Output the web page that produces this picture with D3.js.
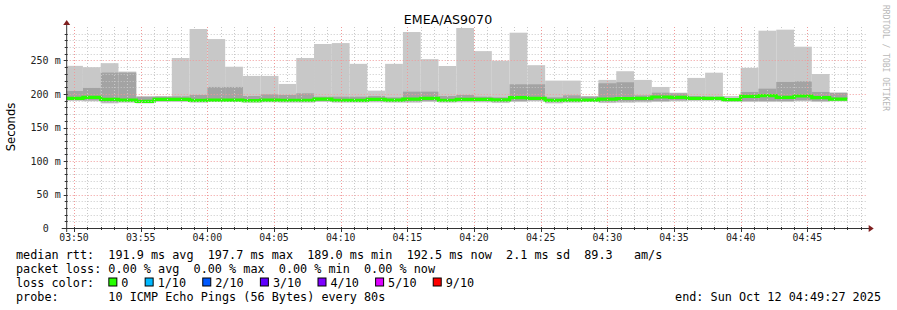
<!DOCTYPE html>
<html>
<head>
<meta charset="utf-8">
<script src="https://cdn.jsdelivr.net/npm/d3@7"></script>
<style>
body { margin: 0; background: #fff; }
svg { display: block; }
text { white-space: pre; }
</style>
</head>
<body>
<svg id="chart"></svg>
<script>
const WIDTH = 897;
const HEIGHT = 310;
const PLOT = {left: 66.7, right: 866.7, top: 27, bottom: 228};
const MONO = 'DejaVu Sans Mono';
const SANS = 'DejaVu Sans';
const SMOKE_LIGHT = '#c8c8c8';
const SMOKE_MID = '#a3a3a3';
const MEDIAN_COLOR = '#26ff00';
const STEP_SEC = 80;

const title = 'EMEA/AS9070';
const day = '2025-10-12';
const viewStart = '03:49:27';
const viewEnd = '04:49:27';

// start of each 80s step
const stepStart = [
    '03:49:20', '03:50:40', '03:52:00', '03:53:20', '03:54:40', '03:56:00', '03:57:20', '03:58:40',
    '04:00:00', '04:01:20', '04:02:40', '04:04:00', '04:05:20', '04:06:40', '04:08:00', '04:09:20',
    '04:10:40', '04:12:00', '04:13:20', '04:14:40', '04:16:00', '04:17:20', '04:18:40', '04:20:00',
    '04:21:20', '04:22:40', '04:24:00', '04:25:20', '04:26:40', '04:28:00', '04:29:20', '04:30:40',
    '04:32:00', '04:33:20', '04:34:40', '04:36:00', '04:37:20', '04:38:40', '04:40:00', '04:41:20',
    '04:42:40', '04:44:00', '04:45:20', '04:46:40'
];

// rtt in ms
const maxRtt = [242, 240, 246, 233.5, 197, 197, 253.7, 297, 282, 240.7, 227, 227, 215, 253.7, 274.6, 276,
    245, 205, 245, 292.5, 252, 241.8, 298.5, 264, 249.7, 291.5, 243, 220, 220, 197, 221, 234,
    221, 210.5, 202, 224, 231.8, 197, 239, 294.5, 296, 270.6, 229.8, 202.5];
const upperRtt = [204.5, 209, 232, 232, 195.5, 196, 196.5, 198.5, 210.5, 210.5, 197, 199.5, 198.5, 201, 196, 196,
    196, 197, 195, 203.5, 203.5, 197, 198.5, 196, 195, 214.5, 214.5, 195, 198, 196, 216, 217.5,
    198, 202, 201, 197, 196, 193.5, 203, 208, 218, 219, 203, 201.5];
const medianRtt = [193.5, 195, 192, 190.8, 189, 192, 192, 190.5, 191, 191, 190, 191, 190.7, 190.7, 192.5, 190.7,
    190.5, 192, 190.8, 192.5, 193.5, 190.7, 192, 192, 191.3, 194.5, 193.5, 190.5, 191, 191, 192.3, 193.3,
    193.5, 195.5, 195, 193.5, 193.5, 191.5, 196.5, 197.7, 195, 197, 194.5, 192.5];
const minRtt = [189.5, 189, 186, 187, 186, 188, 188, 187, 188, 188, 187, 187.5, 187, 187, 188, 187,
    187, 187.5, 187, 187, 188, 187, 187.5, 187.5, 186.5, 188, 189, 186, 187, 188, 186.5, 187,
    187.5, 188, 189, 189.5, 189.5, 188, 188, 188, 188, 189, 188, 189];

const yTicks = [0, 50, 100, 150, 200, 250];
const yTickLabels = ['0  ', '50 m', '100 m', '150 m', '200 m', '250 m'];
const xTickTimes = ['03:50', '03:55', '04:00', '04:05', '04:10', '04:15', '04:20', '04:25', '04:30', '04:35', '04:40', '04:45'];

const legendLines = [
    'median rtt:  191.9 ms avg  197.7 ms max  189.0 ms min  192.5 ms now  2.1 ms sd  89.3   am/s',
    'packet loss: 0.00 % avg  0.00 % max  0.00 % min  0.00 % now',
    'loss color:',
    'probe:       10 ICMP Echo Pings (56 Bytes) every 80s'
];
const lossLabels = ['0', '1/10', '2/10', '3/10', '4/10', '5/10', '9/10'];
const lossColors = ['#26ff00', '#00b8ff', '#0059ff', '#5e00ff', '#7e00ff', '#dd00ff', '#ff0000'];
const endLabel = 'end: Sun Oct 12 04:49:27 2025';
const watermark = 'RRDTOOL / TOBI OETIKER';

const parse = d3.utcParse('%Y-%m-%d %H:%M:%S');
const at = (hms) => parse(day + ' ' + (hms.length === 5 ? hms + ':00' : hms));

const steps = stepStart.map((s, i) => {
    const t0 = at(s);
    return {
        t0,
        t1: new Date(t0.getTime() + STEP_SEC * 1000),
        max: maxRtt[i],
        upper: upperRtt[i],
        med: medianRtt[i],
        min: minRtt[i]
    };
});

const svg = d3.select('#chart')
    .attr('width', WIDTH)
    .attr('height', HEIGHT)
    .style('background', '#fff');

const x = d3.scaleUtc()
    .domain([at(viewStart), at(viewEnd)])
    .range([PLOT.left, PLOT.right]);

const y = d3.scaleLinear()
    .domain([0, 300])
    .range([PLOT.bottom, PLOT.top]);

svg.append('clipPath').attr('id', 'plotclip')
    .append('rect')
    .attr('x', PLOT.left).attr('y', PLOT.top - 5)
    .attr('width', PLOT.right - PLOT.left).attr('height', PLOT.bottom - PLOT.top + 5);

const plot = svg.append('g').attr('clip-path', 'url(#plotclip)');

/* smoke */
plot.selectAll('rect.smoke')
    .data(steps)
    .join('rect')
    .attr('class', 'smoke')
    .attr('x', d => x(d.t0))
    .attr('width', d => x(d.t1) - x(d.t0))
    .attr('y', d => y(d.max))
    .attr('height', d => y(d.min) - y(d.max))
    .attr('fill', SMOKE_LIGHT);

plot.selectAll('rect.mid')
    .data(steps)
    .join('rect')
    .attr('class', 'mid')
    .attr('x', d => x(d.t0))
    .attr('width', d => x(d.t1) - x(d.t0))
    .attr('y', d => y(d.upper))
    .attr('height', d => y(d.min) - y(d.upper) - 1)
    .attr('fill', SMOKE_MID);

/* grid */
const grid = svg.append('g');
const minuteTicks = x.ticks(d3.utcMinute.every(1));
const minorY = d3.range(10, 300, 10);

grid.selectAll('line.vminor')
    .data(minuteTicks.filter(t => t.getUTCMinutes() % 5 !== 0))
    .join('line')
    .attr('x1', d => Math.round(x(d)) + 0.5).attr('x2', d => Math.round(x(d)) + 0.5)
    .attr('y1', PLOT.top).attr('y2', PLOT.bottom)
    .attr('stroke', '#c8c8c8').attr('stroke-dasharray', '1,2');

grid.selectAll('line.hminor')
    .data(minorY.filter(v => v % 50 !== 0))
    .join('line')
    .attr('x1', PLOT.left).attr('x2', PLOT.right)
    .attr('y1', d => Math.round(y(d)) + 0.5).attr('y2', d => Math.round(y(d)) + 0.5)
    .attr('stroke', '#c8c8c8').attr('stroke-dasharray', '1,2');

grid.selectAll('line.vmajor')
    .data(xTickTimes.map(at))
    .join('line')
    .attr('x1', d => Math.round(x(d)) + 0.5).attr('x2', d => Math.round(x(d)) + 0.5)
    .attr('y1', PLOT.top).attr('y2', PLOT.bottom)
    .attr('stroke', '#f09a9a').attr('stroke-dasharray', '1,2');

grid.selectAll('line.hmajor')
    .data(yTicks.filter(v => v > 0))
    .join('line')
    .attr('x1', PLOT.left).attr('x2', PLOT.right)
    .attr('y1', d => Math.round(y(d)) + 0.5).attr('y2', d => Math.round(y(d)) + 0.5)
    .attr('stroke', '#f09a9a').attr('stroke-dasharray', '1,2');

/* median */
const medPts = steps.flatMap(d => [[d.t0, d.med], [d.t1, d.med]]);
plot.append('path')
    .datum(medPts)
    .attr('fill', 'none')
    .attr('stroke', MEDIAN_COLOR)
    .attr('stroke-width', 3.2)
    .attr('d', d3.line().x(d => x(d[0])).y(d => y(d[1])));

/* axes */
const axisColor = '#333';
const arrowColor = '#7f1f1f';
svg.append('line')
    .attr('x1', PLOT.left - 5).attr('x2', PLOT.right + 3)
    .attr('y1', PLOT.bottom + 0.5).attr('y2', PLOT.bottom + 0.5)
    .attr('stroke', axisColor);
svg.append('line')
    .attr('x1', PLOT.left).attr('x2', PLOT.left)
    .attr('y1', PLOT.bottom + 4).attr('y2', PLOT.top - 3)
    .attr('stroke', axisColor);
svg.append('path')
    .attr('d', `M${PLOT.right + 2},${PLOT.bottom - 3}L${PLOT.right + 7},${PLOT.bottom + 0.5}L${PLOT.right + 2},${PLOT.bottom + 4}Z`)
    .attr('fill', arrowColor);
svg.append('path')
    .attr('d', `M${PLOT.left - 3.5},${PLOT.top - 2}L${PLOT.left},${PLOT.top - 7}L${PLOT.left + 3.5},${PLOT.top - 2}Z`)
    .attr('fill', arrowColor);

svg.append('g').selectAll('line')
    .data(minuteTicks)
    .join('line')
    .attr('x1', d => Math.round(x(d)) + 0.5).attr('x2', d => Math.round(x(d)) + 0.5)
    .attr('y1', PLOT.bottom - 1)
    .attr('y2', d => PLOT.bottom + (d.getUTCMinutes() % 5 === 0 ? 4 : 2))
    .attr('stroke', axisColor);

svg.append('g').selectAll('line')
    .data(minorY)
    .join('line')
    .attr('x1', d => PLOT.left - (d % 50 === 0 ? 3 : 2)).attr('x2', PLOT.left + 1)
    .attr('y1', d => Math.round(y(d)) + 0.5).attr('y2', d => Math.round(y(d)) + 0.5)
    .attr('stroke', axisColor);

svg.append('g').selectAll('text')
    .data(xTickTimes)
    .join('text')
    .attr('x', d => x(at(d)))
    .attr('y', PLOT.bottom + 13)
    .attr('text-anchor', 'middle')
    .attr('font-family', MONO).attr('font-size', 9.8)
    .attr('fill', '#222')
    .text(d => d);

svg.append('g').selectAll('text')
    .data(yTicks)
    .join('text')
    .attr('x', PLOT.left - 6)
    .attr('y', d => y(d) + 3.6)
    .attr('text-anchor', 'end')
    .attr('font-family', MONO).attr('font-size', 10)
    .attr('fill', '#222')
    .text((d, i) => yTickLabels[i]);

/* titles */
svg.append('text')
    .attr('x', 448).attr('y', 23.5)
    .attr('text-anchor', 'middle')
    .attr('font-family', SANS).attr('font-size', 12.6)
    .attr('fill', '#000')
    .text(title);

svg.append('text')
    .attr('transform', 'translate(15,127) rotate(-90)')
    .attr('text-anchor', 'middle')
    .attr('font-family', SANS).attr('font-size', 11.6)
    .attr('fill', '#000')
    .text('Seconds');

svg.append('text')
    .attr('transform', 'translate(883,5) rotate(90)')
    .attr('font-family', MONO).attr('font-size', 8)
    .attr('fill', '#b8b8b8')
    .text(watermark);

/* legend */
const LEG_X = 16;
const LEG_Y0 = 258.5;
const LEG_DY = 14;
const LEG_FS = 11.8;
const charW = LEG_FS * 0.602;

svg.append('g').selectAll('text')
    .data(legendLines)
    .join('text')
    .attr('x', LEG_X)
    .attr('y', (d, i) => LEG_Y0 + i * LEG_DY)
    .attr('font-family', MONO).attr('font-size', LEG_FS)
    .attr('fill', '#000')
    .attr('xml:space', 'preserve')
    .text(d => d);

let bx = LEG_X + 13 * charW;
const lossG = svg.append('g');
lossLabels.forEach((lab, i) => {
    lossG.append('rect')
        .attr('x', bx + 0.5).attr('y', LEG_Y0 + 2 * LEG_DY - 8.5)
        .attr('width', 8).attr('height', 8)
        .attr('fill', lossColors[i])
        .attr('stroke', '#000');
    lossG.append('text')
        .attr('x', bx + 13)
        .attr('y', LEG_Y0 + 2 * LEG_DY)
        .attr('font-family', MONO).attr('font-size', LEG_FS)
        .attr('fill', '#000')
        .text(lab);
    bx = bx + 13 + lab.length * charW + 16.2;
});

svg.append('text')
    .attr('x', 881)
    .attr('y', LEG_Y0 + 3 * LEG_DY)
    .attr('text-anchor', 'end')
    .attr('font-family', MONO).attr('font-size', LEG_FS)
    .attr('fill', '#000')
    .text(endLabel);
</script>
</body>
</html>
